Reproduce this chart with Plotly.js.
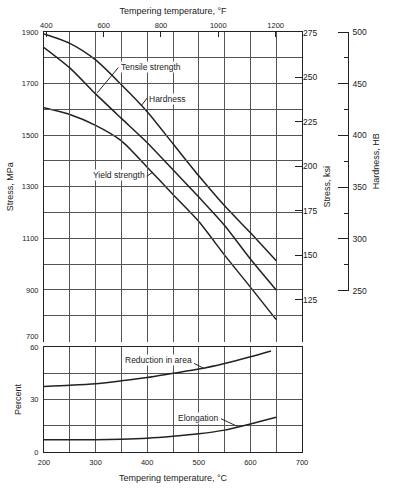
<!DOCTYPE html>
<html>
<head>
<meta charset="utf-8">
<script src="https://cdn.plot.ly/plotly-3.0.1.min.js"></script>
<style>html,body{margin:0;padding:0;background:#fff;}#chart{width:394px;height:488px;}</style>
</head>
<body>
<div id="chart"></div>
<script>
// Data
const tempC = [200, 250, 300, 350, 400, 450, 500, 550, 600, 650];
const hardnessHB = [498, 489, 473, 449, 423, 392, 361, 332, 306, 279];
const tensileMPa = [1840, 1761, 1660, 1565, 1471, 1366, 1260, 1150, 1020, 900];
const yieldMPa = [1606, 1580, 1538, 1478, 1376, 1270, 1165, 1035, 911, 785];
const ductTempC = [200, 250, 300, 350, 400, 450, 500, 550, 600, 640];
const reductionInArea = [37.5, 38.1, 39.0, 40.7, 42.6, 45.0, 47.4, 50.6, 54.4, 57.7];
const elongTempC = [200, 250, 300, 350, 400, 450, 500, 550, 600, 650];
const elongation = [7.0, 7.0, 7.0, 7.3, 7.9, 9.0, 10.4, 12.5, 16.0, 19.8];

const mpaTicks = [700, 900, 1100, 1300, 1500, 1700, 1900];
const ksiTicks = [125, 150, 175, 200, 225, 250, 275];
const hbTicks = [250, 300, 350, 400, 450, 500];
const fTicks = [400, 600, 800, 1000, 1200];
const pctTicks = [0, 30, 60];
const cTicks = [200, 300, 400, 500, 600, 700];

const KSI = 6.895;               // MPa per ksi
const cToF = c => c * 9 / 5 + 32;
const toKsi = m => m / KSI;

const FONT = 'Liberation Sans, Arial, sans-serif';
const INK = '#222';
const GRID = '#555';

const lineStyle = {color: INK, width: 1.5, shape: 'spline', smoothing: 0.7};

const traces = [
  // hardness on the HB scale
  {x: tempC, y: hardnessHB, xaxis: 'x', yaxis: 'y3', mode: 'lines', line: lineStyle, name: 'Hardness', hoverinfo: 'skip'},
  // tensile strength drawn against the °F / MPa scales
  {x: tempC.map(cToF), y: tensileMPa, xaxis: 'x3', yaxis: 'y', mode: 'lines', line: lineStyle, name: 'Tensile strength', hoverinfo: 'skip'},
  // yield strength drawn against the °C / ksi scales
  {x: tempC, y: yieldMPa.map(toKsi), xaxis: 'x', yaxis: 'y2', mode: 'lines', line: lineStyle, name: 'Yield strength', hoverinfo: 'skip'},
  {x: ductTempC, y: reductionInArea, xaxis: 'x', yaxis: 'y4', mode: 'lines', line: lineStyle, name: 'Reduction in area', hoverinfo: 'skip'},
  {x: elongTempC, y: elongation, xaxis: 'x', yaxis: 'y4', mode: 'lines', line: lineStyle, name: 'Elongation', hoverinfo: 'skip'}
];

const tickFont = {family: FONT, size: 7.5, color: INK};
const rightTickFont = {family: FONT, size: 8.5, color: INK};
const titleFont = {family: FONT, size: 9, color: INK};
const noteFont = {family: FONT, size: 8.5, color: INK};

const plotW = 340;                   // 394 - l - r
const xEnd = 258 / plotW;            // right edge of the grid
const hbPos = (347.5 - 44) / plotW;  // hardness axis position
const hbDomain = [0.384, 1];

// lift the lowest stress label a little so it clears the "60" of the lower panel
const mpaText = mpaTicks.map(v => (v === 700 ? String(v) + '<br> ' : String(v)));

const layout = {
  width: 394, height: 488,
  margin: {l: 44, r: 10, t: 32, b: 36, pad: 0},
  paper_bgcolor: '#fff', plot_bgcolor: 'rgba(0,0,0,0)',
  showlegend: false,
  font: {family: FONT, color: INK, size: 9},
  xaxis: {
    domain: [0, xEnd], range: [200, 700], anchor: 'y4',
    tickvals: cTicks, ticks: '', tickfont: tickFont, ticklabelstandoff: 3,
    showgrid: true, gridcolor: GRID, gridwidth: 1,
    minor: {dtick: 50, tick0: 200, showgrid: true, gridcolor: GRID, gridwidth: 1},
    showline: true, linecolor: INK, linewidth: 1, mirror: true, zeroline: false,
    title: {text: 'Tempering temperature, °C', font: titleFont, standoff: 8}
  },
  xaxis3: {
    overlaying: 'x', anchor: 'y', side: 'top', range: [cToF(200), cToF(700)],
    tickvals: fTicks, ticks: 'inside', ticklen: 5, tickcolor: INK, tickfont: tickFont,
    showgrid: false, zeroline: false, showline: true, linecolor: INK, linewidth: 1,
    title: {text: 'Tempering temperature, °F', font: titleFont, standoff: 4}
  },
  yaxis: {
    domain: [0.263, 1], range: [700, 1900], anchor: 'x',
    tickvals: mpaTicks, ticktext: mpaText, ticks: '', tickfont: tickFont, ticklabelstandoff: 3,
    showgrid: true, gridcolor: GRID, gridwidth: 1,
    minor: {dtick: 100, tick0: 700, showgrid: true, gridcolor: GRID, gridwidth: 1},
    showline: true, linecolor: INK, linewidth: 1, mirror: true, zeroline: false,
    title: {text: 'Stress, MPa', font: titleFont, standoff: 6}
  },
  yaxis2: {
    overlaying: 'y', anchor: 'x', side: 'right', range: [toKsi(700), toKsi(1900)],
    tickvals: ksiTicks, ticks: 'inside', ticklen: 7, tickwidth: 1, tickcolor: INK, tickfont: rightTickFont,
    showgrid: false, zeroline: false, showline: false,
    title: {text: 'Stress, ksi', font: titleFont, standoff: 7}
  },
  yaxis3: {
    domain: hbDomain, anchor: 'free', position: hbPos, side: 'left', range: [250, 500],
    tickvals: hbTicks, ticks: 'outside', ticklen: 10, tickwidth: 1, tickcolor: INK, tickfont: rightTickFont,
    ticklabelstandoff: -31,
    minor: {dtick: 25, tick0: 250, ticks: 'outside', ticklen: 4, tickwidth: 1, tickcolor: INK, showgrid: false},
    showgrid: false, zeroline: false, showline: true, linecolor: INK, linewidth: 1
  },
  yaxis4: {
    domain: [0, 0.25], range: [0, 60], anchor: 'x',
    tickvals: pctTicks, ticks: '', tickfont: tickFont, ticklabelstandoff: 3,
    showgrid: true, gridcolor: GRID, gridwidth: 1,
    minor: {dtick: 15, tick0: 0, showgrid: true, gridcolor: GRID, gridwidth: 1},
    showline: true, linecolor: INK, linewidth: 1, mirror: true, zeroline: false,
    title: {text: 'Percent', font: titleFont, standoff: 7}
  },
  annotations: [
    {text: 'Hardness, HB', xref: 'paper', yref: 'paper', x: (376 - 44) / plotW, y: (hbDomain[0] + hbDomain[1]) / 2, xanchor: 'center', yanchor: 'middle', textangle: -90, showarrow: false, font: titleFont},
    {text: 'Tensile strength', xref: 'x', yref: 'y', x: 348, y: 1764, xanchor: 'left', yanchor: 'middle', showarrow: false, font: noteFont, bgcolor: '#fff', borderpad: 0},
    {text: 'Hardness', xref: 'x', yref: 'y', x: 402, y: 1642, xanchor: 'left', yanchor: 'middle', showarrow: false, font: noteFont, bgcolor: '#fff', borderpad: 0},
    {text: 'Yield strength', xref: 'x', yref: 'y', x: 397, y: 1344, xanchor: 'right', yanchor: 'middle', showarrow: false, font: noteFont, bgcolor: '#fff', borderpad: 0},
    {text: 'Reduction in area', xref: 'x', yref: 'y4', x: 355, y: 52.7, xanchor: 'left', yanchor: 'middle', showarrow: false, font: noteFont, bgcolor: '#fff', borderpad: 0},
    {text: 'Elongation', xref: 'x', yref: 'y4', x: 458, y: 19.7, xanchor: 'left', yanchor: 'middle', showarrow: false, font: noteFont, bgcolor: '#fff', borderpad: 0}
  ],
  shapes: [
    {type: 'line', xref: 'x', yref: 'y', x0: 344, y0: 1762, x1: 303, y1: 1664, line: {color: INK, width: 1}},
    {type: 'line', xref: 'x', yref: 'y', x0: 400, y0: 1644, x1: 389, y1: 1616, line: {color: INK, width: 1}},
    {type: 'line', xref: 'x', yref: 'y', x0: 399, y0: 1341, x1: 410, y1: 1355, line: {color: INK, width: 1}},
    {type: 'line', xref: 'x', yref: 'y4', x0: 491, y0: 50.6, x1: 511, y1: 47.6, line: {color: INK, width: 1}},
    {type: 'line', xref: 'x', yref: 'y4', x0: 543, y0: 19.0, x1: 575, y1: 14.6, line: {color: INK, width: 1}}
  ]
};

Plotly.newPlot('chart', traces, layout, {staticPlot: true, displayModeBar: false});
</script>
</body>
</html>
